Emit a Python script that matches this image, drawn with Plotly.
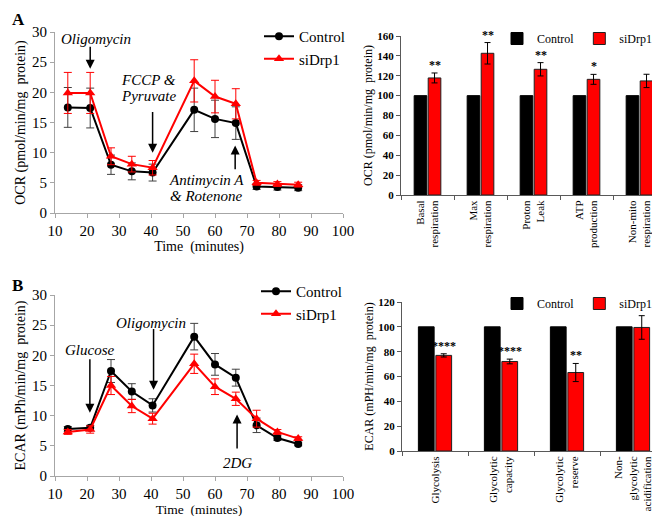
import plotly.graph_objects as go

# ---------------- data ----------------
time_min = [14, 21, 27.5, 34, 40.5, 53.5, 60, 66.5, 73, 79.5, 86]

ocr_control = [17.5, 17.4, 8.0, 6.9, 6.7, 17.1, 15.6, 14.9, 4.4, 4.3, 4.2]
ocr_control_err = [3.3, 3.3, 1.6, 1.4, 1.4, 3.6, 3.1, 2.7, 0.5, 0.5, 0.5]
ocr_sidrp1 = [19.9, 19.9, 9.4, 8.1, 7.5, 21.9, 19.3, 18.1, 5.0, 4.8, 4.7]
ocr_sidrp1_err = [3.4, 3.4, 1.4, 1.3, 1.2, 3.5, 2.7, 2.5, 0.4, 0.4, 0.4]

ecar_control = [7.8, 8.0, 17.4, 14.0, 11.7, 23.1, 18.5, 16.3, 8.4, 6.3, 5.3]
ecar_control_err = [0.4, 0.4, 1.9, 1.3, 1.1, 2.2, 1.8, 1.4, 1.2, 0.4, 0.3]
ecar_sidrp1 = [7.3, 7.7, 15.0, 11.6, 9.5, 18.6, 14.8, 12.8, 9.5, 7.3, 6.2]
ecar_sidrp1_err = [0.4, 0.6, 1.5, 1.1, 0.9, 1.6, 1.3, 1.1, 1.4, 0.4, 0.3]

ocr_categories = ["Basal<br>respiration", "Max<br>respiration", "Proton<br>Leak",
                  "ATP<br>production", "Non-mito<br>respiration"]
ocr_bar_control = [100, 100, 100, 100, 100]
ocr_bar_sidrp1 = [117.8, 142.6, 126.5, 116.4, 114.8]
ocr_bar_sidrp1_err = [5.0, 10.8, 6.7, 5.0, 6.7]
ocr_stars = ["**", "**", "**", "*", ""]

ecar_categories = ["Glycolysis", "Glycolytic<br>capacity", "Glycolytic<br>reserve",
                   "Non-<br>glycolytic<br>acidification"]
ecar_bar_control = [100, 100, 100, 100]
ecar_bar_sidrp1 = [77.0, 72.1, 63.2, 99.5]
ecar_bar_sidrp1_err = [1.3, 1.9, 7.3, 9.5]
ecar_stars = ["****", "****", "**", ""]

# injection annotations: (label lines, arrow time, tail_y, tip_y, label_x, label_y)
ocr_injections = [
    (["Oligomycin"], 21, 27.8, 23.9, 22.8, 28.9),
    (["FCCP &amp;", "Pyruvate"], 40.5, 17.0, 10.0, 39.1, 20.7),
    (["Antimycin A", "&amp; Rotenone"], 66.3, 7.0, 11.2, 57.2, 4.1),
]
ecar_injections = [
    (["Glucose"], 20.9, 19.6, 10.5, 20.9, 20.9),
    (["Oligomycin"], 40.8, 24.6, 14.3, 40.0, 25.4),
    (["2DG"], 66.9, 4.3, 10.2, 66.9, 2.1),
]

FONT = "Liberation Serif, Times New Roman, Times, serif"
W, H = 660, 516

def px_x(p):
    return p / W

def px_y(p):
    return 1 - p / H

fig = go.Figure()

# ---------- line charts ----------
def add_lines(xa, ya, ctrl, ctrl_err, si, si_err, legend):
    fig.add_trace(go.Scatter(
        x=time_min, y=ctrl, mode="lines+markers", name="Control",
        line=dict(color="black", width=2),
        marker=dict(symbol="circle", size=8, color="black"),
        error_y=dict(type="data", array=ctrl_err, color="#404040", thickness=1, width=4),
        xaxis=xa, yaxis=ya, legend=legend))
    fig.add_trace(go.Scatter(
        x=time_min, y=si, mode="lines+markers", name="siDrp1",
        line=dict(color="#ff0000", width=2),
        marker=dict(symbol="triangle-up", size=9, color="#ff0000"),
        error_y=dict(type="data", array=si_err, color="#ff0000", thickness=1, width=4),
        xaxis=xa, yaxis=ya, legend=legend))

add_lines("x", "y", ocr_control, ocr_control_err, ocr_sidrp1, ocr_sidrp1_err, "legend")
add_lines("x3", "y3", ecar_control, ecar_control_err, ecar_sidrp1, ecar_sidrp1_err, "legend3")

# ---------- bar charts ----------
def add_bars(xa, ya, cats, ctrl, si, si_err, legend):
    fig.add_trace(go.Bar(
        x=cats, y=ctrl, name="Control", marker=dict(color="black", line=dict(color="black", width=1)),
        xaxis=xa, yaxis=ya, legend=legend))
    fig.add_trace(go.Bar(
        x=cats, y=si, name="siDrp1", marker=dict(color="#ff0000", line=dict(color="#202020", width=1)),
        error_y=dict(type="data", array=si_err, color="black", thickness=1, width=3),
        xaxis=xa, yaxis=ya, legend=legend))

add_bars("x2", "y2", ocr_categories, ocr_bar_control, ocr_bar_sidrp1, ocr_bar_sidrp1_err, "legend2")
add_bars("x4", "y4", ecar_categories, ecar_bar_control, ecar_bar_sidrp1, ecar_bar_sidrp1_err, "legend4")

annotations = []

# stars above siDrp1 bars
bargap, bargroupgap = 0.47, 0.1
offset = (1 - bargap) / 4
def add_stars(xa, ya, cats, vals, errs, stars):
    for i, s in enumerate(stars):
        if not s:
            continue
        annotations.append(dict(
            x=i + offset, y=vals[i] + errs[i], xref=xa, yref=ya, text="<b>" + s + "</b>",
            showarrow=False, yanchor="bottom", yshift=-1,
            font=dict(family=FONT, size=12, color="black")))

add_stars("x2", "y2", ocr_categories, ocr_bar_sidrp1, ocr_bar_sidrp1_err, ocr_stars)
add_stars("x4", "y4", ecar_categories, ecar_bar_sidrp1, ecar_bar_sidrp1_err, ecar_stars)

# injection arrows and labels
LINE_H = 16
def add_injections(xa, ya, inj):
    for lines, t, tail, tip, lx, ly in inj:
        annotations.append(dict(
            x=t, y=tip, ax=t, ay=tail, xref=xa, yref=ya, axref=xa, ayref=ya,
            text="", showarrow=True, arrowhead=2, arrowsize=1.2, arrowwidth=1.5,
            arrowcolor="black"))
        n = len(lines)
        for i, line in enumerate(lines):
            annotations.append(dict(
                x=lx, y=ly, xref=xa, yref=ya, text="<i>" + line + "</i>",
                showarrow=False, yanchor="middle", xanchor="center",
                yshift=((n - 1) / 2 - i) * LINE_H,
                font=dict(family=FONT, size=15, color="black")))

add_injections("x", "y", ocr_injections)
add_injections("x3", "y3", ecar_injections)

# panel letters
annotations.append(dict(x=px_x(2), y=px_y(0), xref="paper", yref="paper", text="<b>A</b>",
                        showarrow=False, xanchor="left", yanchor="top",
                        font=dict(family=FONT, size=17, color="black")))
annotations.append(dict(x=px_x(2), y=px_y(266), xref="paper", yref="paper", text="<b>B</b>",
                        showarrow=False, xanchor="left", yanchor="top",
                        font=dict(family=FONT, size=17, color="black")))

line_axis = dict(showline=True, linecolor="#a6a6a6", linewidth=1, ticks="outside",
                 tickcolor="#a6a6a6", ticklen=4, showgrid=False, zeroline=False,
                 tickfont=dict(family=FONT, size=15, color="black"))
bar_axis = dict(showline=True, linecolor="#595959", linewidth=1, ticks="outside",
                tickcolor="#595959", ticklen=4, showgrid=False, zeroline=False)

fig.update_layout(
    width=W, height=H, margin=dict(l=0, r=0, t=0, b=0, autoexpand=False),
    paper_bgcolor="white", plot_bgcolor="white",
    barmode="group", bargap=bargap, bargroupgap=bargroupgap,
    font=dict(family=FONT, color="black"),
    annotations=annotations,
    xaxis=dict(line_axis, domain=[px_x(47), px_x(335)], range=[10, 100], dtick=10, anchor="y",
               title=dict(text="Time  (minutes)", font=dict(family=FONT, size=14), standoff=0)),
    yaxis=dict(line_axis, domain=[px_y(205), px_y(24)], range=[0, 30], dtick=5, anchor="x",
               title=dict(text="OCR (pmol/min/mg  protein)", font=dict(family=FONT, size=14), standoff=3)),
    xaxis3=dict(line_axis, domain=[px_x(47), px_x(335)], range=[10, 100], dtick=10, anchor="y3",
                title=dict(text="Time  (minutes)", font=dict(family=FONT, size=13.5), standoff=0)),
    yaxis3=dict(line_axis, domain=[px_y(468), px_y(287)], range=[0, 30], dtick=5, anchor="x3",
                title=dict(text="ECAR (mPh/min/mg  protein)", font=dict(family=FONT, size=14), standoff=3)),
    xaxis2=dict(bar_axis, domain=[px_x(393), px_x(658)], anchor="y2", tickangle=-90,
                tickson="boundaries", tickfont=dict(family=FONT, size=11, color="black")),
    yaxis2=dict(bar_axis, domain=[px_y(187), px_y(28)], range=[0, 160], dtick=20, anchor="x2",
                tickfont=dict(family=FONT, size=11, color="black", weight="bold"),
                title=dict(text="OCR (pmol/min/mg  protein)", font=dict(family=FONT, size=12), standoff=2)),
    xaxis4=dict(bar_axis, domain=[px_x(394), px_x(658)], anchor="y4", tickangle=-90,
                tickson="boundaries", tickfont=dict(family=FONT, size=11, color="black")),
    yaxis4=dict(bar_axis, domain=[px_y(443), px_y(294)], range=[0, 120], dtick=20, anchor="x4",
                tickfont=dict(family=FONT, size=11, color="black", weight="bold"),
                title=dict(text="ECAR (mPH/min/mg  protein)", font=dict(family=FONT, size=12), standoff=2)),
    legend=dict(x=px_x(251), y=px_y(12), xanchor="left", yanchor="top", bgcolor="rgba(0,0,0,0)",
                font=dict(family=FONT, size=15), tracegroupgap=0, itemwidth=30),
    legend3=dict(x=px_x(248), y=px_y(267), xanchor="left", yanchor="top", bgcolor="rgba(0,0,0,0)",
                 font=dict(family=FONT, size=15), tracegroupgap=0, itemwidth=30),
    legend2=dict(x=px_x(650), y=px_y(16), xanchor="right", yanchor="top", orientation="h",
                 bgcolor="rgba(0,0,0,0)", font=dict(family=FONT, size=12), itemwidth=30),
    legend4=dict(x=px_x(650), y=px_y(281), xanchor="right", yanchor="top", orientation="h",
                 bgcolor="rgba(0,0,0,0)", font=dict(family=FONT, size=12), itemwidth=30),
)

fig.write_html("out.html")
